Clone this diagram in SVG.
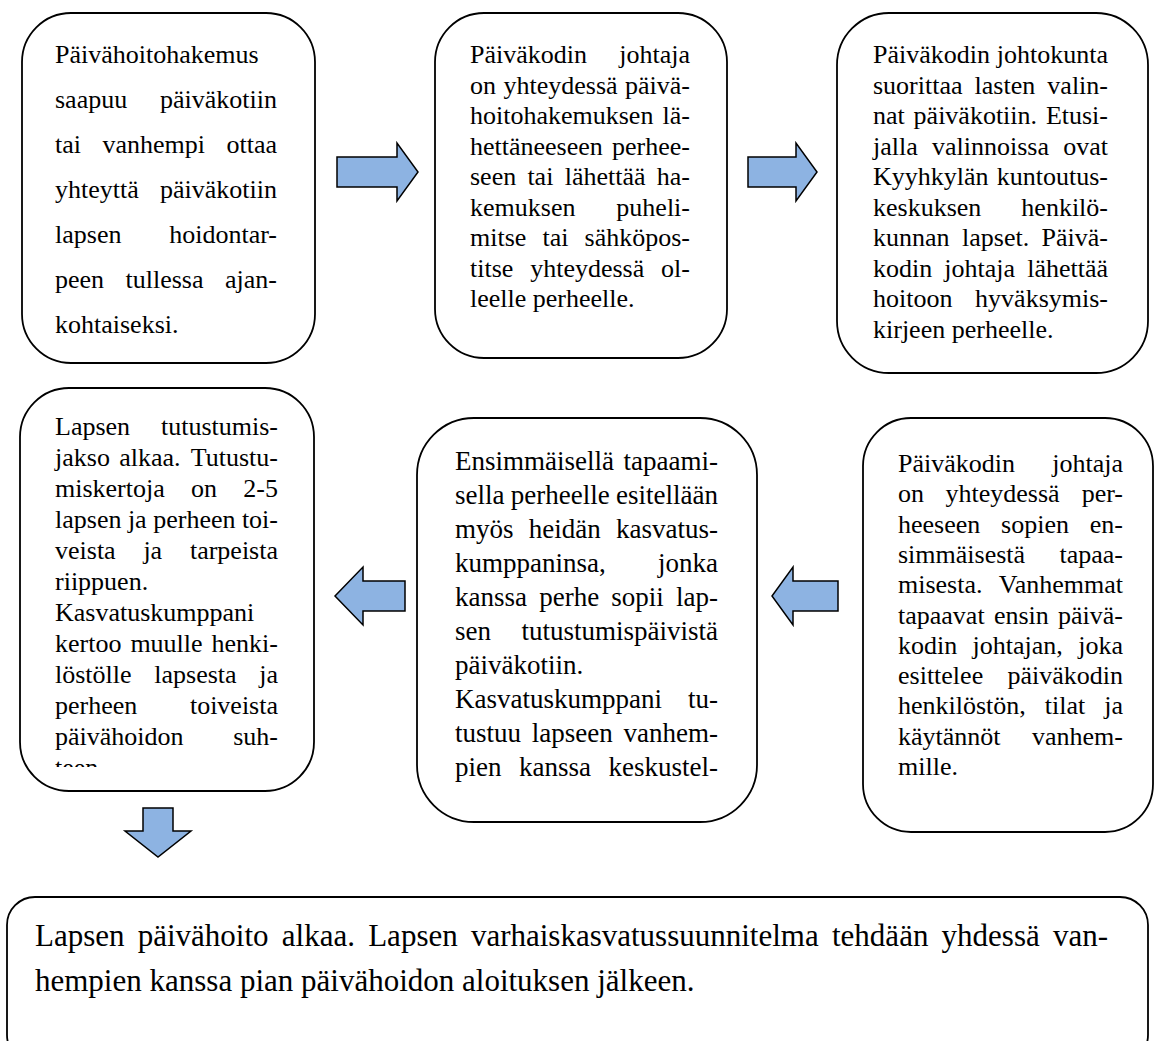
<svg xmlns="http://www.w3.org/2000/svg" width="1155" height="1041" viewBox="0 0 1155 1041">
<style>
.box{fill:#fff;stroke:#000;stroke-width:1.8}
.arr{fill:#8DB3E2;stroke:#000;stroke-width:1.5;stroke-linejoin:miter}
text{font-family:"Liberation Serif","Times New Roman",serif;fill:#000;font-size:26px}
.t5{font-size:27px}
.tb{font-size:31px}
.e{text-anchor:end}
</style>
<defs>
<clipPath id="c4"><rect x="20" y="388" width="294" height="379"/></clipPath>
</defs>
<rect width="1155" height="1041" fill="#fff"/>

<g id="n1" font-family="Liberation Serif, serif">
<rect class="box" x="22" y="13" width="293" height="350" rx="49"/>
<text x="55" y="63">Päivähoitohakemus</text>
<text y="108"><tspan x="55">saapuu</tspan><tspan class="e" x="277">päiväkotiin</tspan></text>
<text y="153"><tspan x="55">tai</tspan><tspan x="102.5">vanhempi</tspan><tspan class="e" x="277">ottaa</tspan></text>
<text y="198"><tspan x="55">yhteyttä</tspan><tspan class="e" x="277">päiväkotiin</tspan></text>
<text y="243"><tspan x="55">lapsen</tspan><tspan class="e" x="277">hoidontar-</tspan></text>
<text y="288"><tspan x="55">peen</tspan><tspan x="125.5">tullessa</tspan><tspan class="e" x="277">ajan-</tspan></text>
<text x="55" y="333">kohtaiseksi.</text>
</g>

<g id="n2" font-family="Liberation Serif, serif">
<rect class="box" x="435" y="13" width="292" height="345" rx="49"/>
<text y="63"><tspan x="470">Päiväkodin</tspan><tspan class="e" x="690">johtaja</tspan></text>
<text y="93.5"><tspan x="470">on</tspan><tspan x="503.5">yhteydessä</tspan><tspan class="e" x="690">päivä-</tspan></text>
<text y="124"><tspan x="470">hoitohakemuksen</tspan><tspan class="e" x="690">lä-</tspan></text>
<text y="154.5"><tspan x="470">hettäneeseen</tspan><tspan class="e" x="690">perhee-</tspan></text>
<text y="185"><tspan x="470">seen</tspan><tspan x="527.4">tai</tspan><tspan x="564.7">lähettää</tspan><tspan class="e" x="690">ha-</tspan></text>
<text y="215.5"><tspan x="470">kemuksen</tspan><tspan class="e" x="690">puheli-</tspan></text>
<text y="246"><tspan x="470">mitse</tspan><tspan x="542.5">tai</tspan><tspan class="e" x="690">sähköpos-</tspan></text>
<text y="276.5"><tspan x="470">titse</tspan><tspan x="530.2">yhteydessä</tspan><tspan class="e" x="690">ol-</tspan></text>
<text x="470" y="307">leelle perheelle.</text>
</g>

<g id="n3" font-family="Liberation Serif, serif">
<rect class="box" x="837" y="13" width="311" height="360" rx="52"/>
<text y="63"><tspan x="873">Päiväkodin</tspan><tspan class="e" x="1108">johtokunta</tspan></text>
<text y="93.5"><tspan x="873">suorittaa</tspan><tspan x="974.6">lasten</tspan><tspan class="e" x="1108">valin-</tspan></text>
<text y="124"><tspan x="873">nat</tspan><tspan x="913.6">päiväkotiin.</tspan><tspan class="e" x="1108">Etusi-</tspan></text>
<text y="154.5"><tspan x="873">jalla</tspan><tspan x="932">valinnoissa</tspan><tspan class="e" x="1108">ovat</tspan></text>
<text y="185"><tspan x="873">Kyyhkylän</tspan><tspan class="e" x="1108">kuntoutus-</tspan></text>
<text y="215.5"><tspan x="873">keskuksen</tspan><tspan class="e" x="1108">henkilö-</tspan></text>
<text y="246"><tspan x="873">kunnan</tspan><tspan x="962">lapset.</tspan><tspan class="e" x="1108">Päivä-</tspan></text>
<text y="276.5"><tspan x="873">kodin</tspan><tspan x="944.3">johtaja</tspan><tspan class="e" x="1108">lähettää</tspan></text>
<text y="307"><tspan x="873">hoitoon</tspan><tspan class="e" x="1108">hyväksymis-</tspan></text>
<text x="873" y="337.5">kirjeen perheelle.</text>
</g>

<g id="n4" font-family="Liberation Serif, serif">
<rect class="box" x="20" y="388" width="294" height="403" rx="49"/>
<g clip-path="url(#c4)">
<text y="435"><tspan x="55">Lapsen</tspan><tspan class="e" x="278">tutustumis-</tspan></text>
<text y="466"><tspan x="55">jakso</tspan><tspan x="119.2">alkaa.</tspan><tspan class="e" x="278">Tutustu-</tspan></text>
<text y="497"><tspan x="55">miskertoja</tspan><tspan x="191">on</tspan><tspan class="e" x="278">2-5</tspan></text>
<text y="528"><tspan x="55">lapsen</tspan><tspan x="127.9">ja</tspan><tspan x="153.2">perheen</tspan><tspan class="e" x="278">toi-</tspan></text>
<text y="559"><tspan x="55">veista</tspan><tspan x="143.4">ja</tspan><tspan class="e" x="278">tarpeista</tspan></text>
<text x="55" y="590">riippuen.</text>
<text x="55" y="621">Kasvatuskumppani</text>
<text y="652"><tspan x="55">kertoo</tspan><tspan x="130.4">muulle</tspan><tspan class="e" x="278">henki-</tspan></text>
<text y="683"><tspan x="55">löstölle</tspan><tspan x="154.3">lapsesta</tspan><tspan class="e" x="278">ja</tspan></text>
<text y="714"><tspan x="55">perheen</tspan><tspan class="e" x="278">toiveista</tspan></text>
<text y="745"><tspan x="55">päivähoidon</tspan><tspan class="e" x="278">suh-</tspan></text>
<text x="55" y="776">teen.</text>
</g>
</g>

<g id="n5" font-family="Liberation Serif, serif">
<rect class="box" x="417" y="418" width="340" height="404" rx="57"/>
<text class="t5" y="470"><tspan x="455">Ensimmäisellä</tspan><tspan class="e" x="718">tapaami-</tspan></text>
<text class="t5" y="504"><tspan x="455">sella</tspan><tspan x="510.8">perheelle</tspan><tspan class="e" x="718">esitellään</tspan></text>
<text class="t5" y="538"><tspan x="455">myös</tspan><tspan x="528.8">heidän</tspan><tspan class="e" x="718">kasvatus-</tspan></text>
<text class="t5" y="572"><tspan x="455">kumppaninsa,</tspan><tspan class="e" x="718">jonka</tspan></text>
<text class="t5" y="606"><tspan x="455">kanssa</tspan><tspan x="539.2">perhe</tspan><tspan x="611.3">sopii</tspan><tspan class="e" x="718">lap-</tspan></text>
<text class="t5" y="640"><tspan x="455">sen</tspan><tspan class="e" x="718">tutustumispäivistä</tspan></text>
<text class="t5" x="455" y="674">päiväkotiin.</text>
<text class="t5" y="708"><tspan x="455">Kasvatuskumppani</tspan><tspan class="e" x="718">tu-</tspan></text>
<text class="t5" y="742"><tspan x="455">tustuu</tspan><tspan x="531.8">lapseen</tspan><tspan class="e" x="718">vanhem-</tspan></text>
<text class="t5" y="776"><tspan x="455">pien</tspan><tspan x="519">kanssa</tspan><tspan class="e" x="718">keskustel-</tspan></text>
</g>

<g id="n6" font-family="Liberation Serif, serif">
<rect class="box" x="863" y="418" width="290" height="414" rx="48"/>
<text y="472"><tspan x="898">Päiväkodin</tspan><tspan class="e" x="1123">johtaja</tspan></text>
<text y="502.3"><tspan x="898">on</tspan><tspan x="945.5">yhteydessä</tspan><tspan class="e" x="1123">per-</tspan></text>
<text y="532.6"><tspan x="898">heeseen</tspan><tspan x="1001.1">sopien</tspan><tspan class="e" x="1123">en-</tspan></text>
<text y="562.9"><tspan x="898">simmäisestä</tspan><tspan class="e" x="1123">tapaa-</tspan></text>
<text y="593.2"><tspan x="898">misesta.</tspan><tspan class="e" x="1123">Vanhemmat</tspan></text>
<text y="623.5"><tspan x="898">tapaavat</tspan><tspan x="993.9">ensin</tspan><tspan class="e" x="1123">päivä-</tspan></text>
<text y="653.8"><tspan x="898">kodin</tspan><tspan x="972.6">johtajan,</tspan><tspan class="e" x="1123">joka</tspan></text>
<text y="684.1"><tspan x="898">esittelee</tspan><tspan class="e" x="1123">päiväkodin</tspan></text>
<text y="714.4"><tspan x="898">henkilöstön,</tspan><tspan x="1044.8">tilat</tspan><tspan class="e" x="1123">ja</tspan></text>
<text y="744.7"><tspan x="898">käytännöt</tspan><tspan class="e" x="1123">vanhem-</tspan></text>
<text x="898" y="775">mille.</text>
</g>

<g id="n7" font-family="Liberation Serif, serif">
<rect class="box" x="7" y="897" width="1141" height="166" rx="28"/>
<text class="tb" y="946"><tspan x="35">Lapsen</tspan><tspan x="137.7">päivähoito</tspan><tspan x="281.8">alkaa.</tspan><tspan x="368.2">Lapsen</tspan><tspan x="470.9">varhaiskasvatussuunnitelma</tspan><tspan x="832">tehdään</tspan><tspan x="941.6">yhdessä</tspan><tspan class="e" x="1108">van-</tspan></text>
<text class="tb" x="35" y="991">hempien kanssa pian päivähoidon aloituksen jälkeen.</text>
</g>

<g id="connectors">
<polygon class="arr" points="337,157 397,157 397,143 418,172 397,201 397,187 337,187"/>
<polygon class="arr" points="748,157 796,157 796,143 817,172 796,201 796,187 748,187"/>
<polygon class="arr" points="838,581 793,581 793,567 772,596 793,625 793,611 838,611"/>
<polygon class="arr" points="405,581 363,581 363,567 335,596 363,625 363,611 405,611"/>
<polygon class="arr" points="143,808 173,808 173,831 191,831 158,857 125,831 143,831"/>
</g>
</svg>
